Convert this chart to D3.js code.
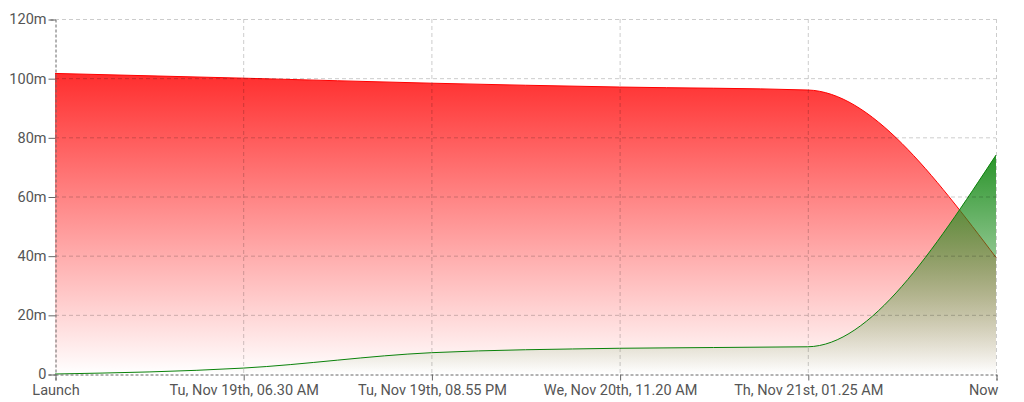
<!DOCTYPE html>
<html><head><meta charset="utf-8">
<script src="https://cdn.jsdelivr.net/npm/d3@7"></script>
<style>
body{margin:0;background:#fff;}
svg text{font-family:Roboto,"Noto Sans",sans-serif;}
</style></head>
<body><svg id="c" width="1024" height="402"></svg>
<script>
const categories = ["Launch","Tu, Nov 19th, 06.30 AM","Tu, Nov 19th, 08.55 PM","We, Nov 20th, 11.20 AM","Th, Nov 21st, 01.25 AM","Now"];
const redValues = [101.6, 100.0, 98.3, 97.0, 96.0, 39.4];
const greenValues = [0, 2.0, 7.2, 8.7, 9.2, 74.0];
const yTicks = [0, 20, 40, 60, 80, 100, 120];
const yTickLabels = ["0","20m","40m","60m","80m","100m","120m"];

const svg = d3.select("#c");
const m = {l:55, r:28, t:19, b:28};
const W = 1024, H = 402;
const x = d3.scalePoint().domain(d3.range(categories.length)).range([m.l, W - m.r]);
const y = d3.scaleLinear().domain([0,120]).range([H - m.b, m.t]);

const defs = svg.append("defs");
function grad(id, color, topVal, opTop){
  const g = defs.append("linearGradient").attr("id", id).attr("gradientUnits","userSpaceOnUse")
    .attr("x1",0).attr("x2",0).attr("y1", y(topVal)).attr("y2", y(0));
  g.append("stop").attr("offset","0").attr("stop-color",color).attr("stop-opacity",opTop);
  g.append("stop").attr("offset","1").attr("stop-color",color).attr("stop-opacity",0);
}
grad("gr", "#ff2e2e", d3.max(redValues), 1);
grad("gg", "#1f8e1f", d3.max(greenValues), 0.95);

const idx = d3.range(categories.length);
const area = vals => d3.area().x(i => x(i)).y0(y(0)).y1(i => y(vals[i])).curve(d3.curveMonotoneX)(idx);
const line = vals => d3.line().x(i => x(i)).y(i => y(vals[i])).curve(d3.curveMonotoneX)(idx);

svg.append("path").attr("d", area(redValues)).attr("fill","url(#gr)");
svg.append("path").attr("d", line(redValues)).attr("fill","none").attr("stroke","#ff0000").attr("stroke-width",1);
svg.append("path").attr("d", area(greenValues)).attr("fill","url(#gg)");
svg.append("path").attr("d", line(greenValues)).attr("fill","none").attr("stroke","#0a820a").attr("stroke-width",1);

// grid
const grid = svg.append("g").attr("stroke","#000").attr("stroke-opacity",0.2).attr("stroke-dasharray","4,3");
yTicks.filter(v => v > 0).forEach(v => {
  grid.append("line").attr("x1", m.l).attr("x2", W - m.r).attr("y1", y(v)+0.5).attr("y2", y(v)+0.5);
});
idx.slice(1).forEach(i => {
  grid.append("line").attr("x1", x(i)+0.5).attr("x2", x(i)+0.5).attr("y1", y(120)).attr("y2", y(0));
});

// axes
const yAxis = d3.axisLeft(y).tickValues(yTicks).tickFormat((d,i) => yTickLabels[i]).tickSizeOuter(0).tickSize(7).tickPadding(2);
const gy = svg.append("g").attr("transform", `translate(${m.l+0.5},0.5)`).call(yAxis);
const xAxis = d3.axisBottom(x).tickFormat(i => categories[i]).tickSizeOuter(0).tickSize(6).tickPadding(4);
const gx = svg.append("g").attr("transform", `translate(0.5,${H - m.b + 0.5})`).call(xAxis);

[gy, gx].forEach(g => {
  g.select(".domain").attr("stroke","#666").attr("stroke-dasharray","3,2");
  g.selectAll(".tick line").attr("stroke","#666");
  g.selectAll(".tick text").attr("fill","#555").style("font-size","14.5px");
});
gy.selectAll(".tick text").attr("dy","0.3em");
gx.selectAll(".tick text").filter(i => i === categories.length - 1).attr("text-anchor","end").attr("dx","0.1em");
</script></body></html>
